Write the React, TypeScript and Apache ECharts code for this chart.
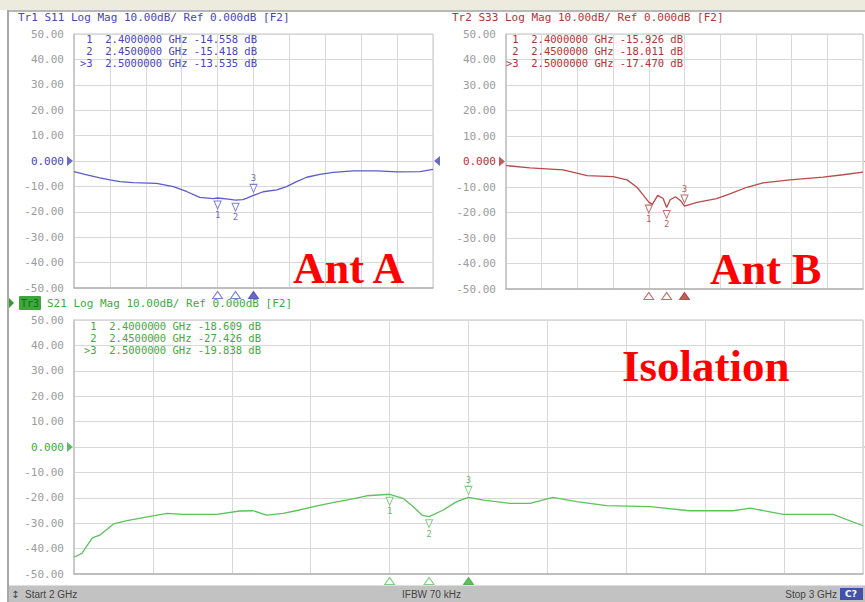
import React, { useEffect, useRef } from 'react';
import * as echarts from 'echarts';

// ---- data (GHz / dB) ----
const markerFreqs = [2.4, 2.45, 2.5];
const markerNames = ['1', '2', '3'];

const s11Freq = [2.0, 2.03, 2.072, 2.1, 2.128, 2.165, 2.23, 2.277, 2.315, 2.35, 2.388, 2.4, 2.43, 2.45, 2.47, 2.48, 2.5, 2.527, 2.565, 2.592, 2.62, 2.648, 2.685, 2.722, 2.778, 2.843, 2.9, 2.964, 3.0];
const s11Db = [-4.2, -5.3, -6.6, -7.4, -8.1, -8.5, -8.8, -10.1, -12.1, -14.3, -14.8, -14.56, -15.0, -15.42, -15.2, -14.7, -13.54, -12.1, -11.4, -10.1, -8.1, -6.4, -5.3, -4.5, -3.9, -3.9, -4.3, -4.2, -3.3];
const s11MarkerDb = [-14.558, -15.418, -13.535];

const s33Freq = [2.0, 2.067, 2.16, 2.227, 2.3, 2.339, 2.367, 2.385, 2.4, 2.41, 2.425, 2.44, 2.45, 2.46, 2.475, 2.49, 2.5, 2.535, 2.59, 2.627, 2.675, 2.72, 2.795, 2.888, 2.944, 3.0];
const s33Db = [-1.6, -2.5, -3.3, -5.5, -5.9, -7.2, -10.1, -13.3, -15.93, -16.8, -13.3, -14.5, -18.01, -15.0, -13.8, -15.5, -17.47, -16.0, -14.6, -12.7, -10.1, -8.4, -7.2, -6.1, -5.2, -4.2];
const s33MarkerDb = [-15.926, -18.011, -17.47];

const s21Freq = [2.0, 2.01, 2.023, 2.033, 2.05, 2.067, 2.088, 2.118, 2.138, 2.181, 2.21, 2.227, 2.244, 2.265, 2.286, 2.308, 2.328, 2.35, 2.371, 2.4, 2.417, 2.43, 2.441, 2.45, 2.468, 2.485, 2.5, 2.519, 2.553, 2.578, 2.607, 2.637, 2.675, 2.73, 2.78, 2.835, 2.857, 2.899, 2.962, 3.0];
const s21Db = [-43.4, -41.9, -35.9, -34.6, -30.3, -29.0, -27.8, -26.1, -26.5, -26.5, -25.2, -25.1, -26.8, -26.1, -24.8, -23.2, -21.9, -20.6, -19.2, -18.61, -20.2, -23.5, -26.8, -27.43, -24.8, -21.5, -19.84, -20.9, -22.2, -22.2, -19.8, -21.5, -23.1, -23.5, -25.1, -25.1, -24.1, -26.5, -26.5, -31.0];
const s21MarkerDb = [-18.609, -27.426, -19.838];

const traceTitles = [
  'Tr1 S11 Log Mag 10.00dB/ Ref 0.000dB [F2]',
  'Tr2 S33 Log Mag 10.00dB/ Ref 0.000dB [F2]',
  'S21 Log Mag 10.00dB/ Ref 0.000dB [F2]',
];
const trace3Tag = 'Tr3';
const panelLabels = ['Ant A', 'Ant B', 'Isolation'];
const statusTexts = ['Start 2 GHz', 'IFBW 70 kHz', 'Stop 3 GHz'];

const freqMin = 2;
const freqMax = 3;
const freqStep = 0.1;
const dbMin = -50;
const dbMax = 50;
const dbStep = 10;

// ---- styles ----
const MONO = '"DejaVu Sans Mono", "Liberation Mono", monospace';
const panels = [
  { freq: s11Freq, db: s11Db, mk: s11MarkerDb, line: '#5a5ccc', text: '#4646b4', grid: { left: 74, top: 34, width: 359, height: 254 } },
  { freq: s33Freq, db: s33Db, mk: s33MarkerDb, line: '#b84a4a', text: '#b03434', grid: { left: 506, top: 34, width: 357, height: 255 } },
  { freq: s21Freq, db: s21Db, mk: s21MarkerDb, line: '#5cc25c', text: '#3faa3f', grid: { left: 74, top: 320, width: 789, height: 254 } },
];

const readoutPos = [
  { x: 80, y: 39 },
  { x: 506, y: 39 },
  { x: 84, y: 326 },
];
const readoutGap = 12;

function readoutRow(i: number, db: number) {
  return (i === 2 ? '>' : ' ') + markerNames[i] + '  ' + markerFreqs[i].toFixed(7) + ' GHz ' + db.toFixed(3) + ' dB';
}

export default function App() {
  const ref = useRef<HTMLDivElement>(null);

  useEffect(() => {
    if (!ref.current) return;
    const chart = echarts.init(ref.current, undefined, { renderer: 'svg' });

    const grid = panels.map((p) => ({
      ...p.grid,
      show: true,
      borderColor: '#c4c4c4',
      borderWidth: 1,
      backgroundColor: '#ffffff',
    }));

    const xAxis = panels.map((_, i) => ({
      type: 'value',
      gridIndex: i,
      min: freqMin,
      max: freqMax,
      interval: freqStep,
      axisLabel: { show: false },
      axisTick: { show: false },
      axisLine: { show: true, onZero: false, lineStyle: { color: '#b4b4b4', width: 1.5 } },
      splitLine: { show: true, lineStyle: { color: '#d8d8d8', width: 1 } },
    }));

    const yAxis = panels.map((p, i) => ({
      type: 'value',
      gridIndex: i,
      min: dbMin,
      max: dbMax,
      interval: dbStep,
      axisTick: { show: false },
      axisLine: { show: true, onZero: false, lineStyle: { color: '#c4c4c4', width: 1.5 } },
      splitLine: { show: true, lineStyle: { color: '#d8d8d8', width: 1 } },
      axisLabel: {
        margin: 10,
        fontFamily: MONO,
        fontSize: 11,
        color: '#9c9c9c',
        formatter: (v: number) => (v === 0 ? '{z|0.000}' : v.toFixed(2)),
        rich: { z: { color: p.text, fontFamily: MONO, fontSize: 11 } },
      },
    }));

    const series: any[] = [];
    panels.forEach((p, i) => {
      series.push({
        type: 'line',
        xAxisIndex: i,
        yAxisIndex: i,
        data: p.freq.map((f, k) => [f, p.db[k]]),
        showSymbol: false,
        symbol: 'none',
        lineStyle: { color: p.line, width: 1.3 },
        z: 3,
      });
      // markers on the trace
      series.push({
        type: 'scatter',
        xAxisIndex: i,
        yAxisIndex: i,
        clip: false,
        z: 4,
        symbol: 'path://M0,0L10,0L5,10Z',
        symbolSize: [7, 8],
        itemStyle: { color: '#ffffff', borderColor: p.line, borderWidth: 1 },
        data: markerFreqs.map((f, k) => ({
          value: [f, p.mk[k]],
          symbolOffset: [0, k === 2 ? -7 : 7],
          label: {
            show: true,
            position: k === 2 ? 'top' : 'bottom',
            distance: 1,
            formatter: markerNames[k],
            color: p.text,
            fontFamily: MONO,
            fontSize: 9,
          },
        })),
      });
      // markers under the axis
      series.push({
        type: 'scatter',
        xAxisIndex: i,
        yAxisIndex: i,
        clip: false,
        z: 4,
        symbol: 'path://M5,0L10,8L0,8Z',
        symbolSize: [10, 7],
        data: markerFreqs.map((f, k) => ({
          value: [f, dbMin],
          symbolOffset: [0, 7],
          itemStyle: k === 2
            ? { color: p.text, borderColor: p.text, borderWidth: 1 }
            : { color: '#ffffff', borderColor: p.line, borderWidth: 1 },
        })),
      });
      // reference arrows
      series.push({
        type: 'scatter',
        xAxisIndex: i,
        yAxisIndex: i,
        clip: false,
        z: 5,
        symbolSize: [6, 10],
        itemStyle: { color: p.text },
        data: [
          { value: [freqMin, 0], symbol: 'path://M0,0L8,5L0,10Z', symbolOffset: [-4, 0] },
          { value: [freqMax, 0], symbol: 'path://M8,0L0,5L8,10Z', symbolOffset: [4, 0] },
        ],
      });
    });

    const graphic: any[] = [
      { type: 'rect', shape: { x: 0, y: 0, width: 865, height: 10 }, style: { fill: '#ecebdd' }, z: 10 },
      { type: 'rect', shape: { x: 7, y: 10, width: 858, height: 2 }, style: { fill: '#b8b8b8' }, z: 10 },
      { type: 'rect', shape: { x: 7, y: 10, width: 2, height: 592 }, style: { fill: '#a8a8a8' }, z: 10 },
      // status bar
      { type: 'rect', shape: { x: 9, y: 585, width: 856, height: 17 }, style: { fill: '#c2c2c2' }, z: 10 },
      { type: 'rect', shape: { x: 9, y: 585, width: 856, height: 1 }, style: { fill: '#dedede' }, z: 10 },
      { type: 'text', x: 11, y: 594, style: { text: '↕', font: '10px "DejaVu Sans"', fill: '#444', verticalAlign: 'middle' }, z: 11 },
      { type: 'text', x: 25, y: 594, style: { text: statusTexts[0], font: '10px "Liberation Sans"', fill: '#444', verticalAlign: 'middle' }, z: 11 },
      { type: 'text', x: 402, y: 594, style: { text: statusTexts[1], font: '10px "Liberation Sans"', fill: '#444', verticalAlign: 'middle' }, z: 11 },
      { type: 'text', x: 837, y: 594, style: { text: statusTexts[2], font: '10px "Liberation Sans"', fill: '#444', align: 'right', verticalAlign: 'middle' }, z: 11 },
      { type: 'rect', shape: { x: 840, y: 588, width: 23, height: 12 }, style: { fill: '#4252a8' }, z: 11 },
      { type: 'text', x: 851, y: 594, style: { text: 'C?', font: 'bold 9px "DejaVu Sans"', fill: '#ffffff', align: 'center', verticalAlign: 'middle' }, z: 12 },
      // headers
      { type: 'text', x: 18, y: 17, style: { text: traceTitles[0], font: '11px ' + MONO, fill: panels[0].text, verticalAlign: 'middle' }, z: 11 },
      { type: 'text', x: 452, y: 17, style: { text: traceTitles[1], font: '11px ' + MONO, fill: panels[1].text, verticalAlign: 'middle' }, z: 11 },
      { type: 'polygon', shape: { points: [[9, 298], [14, 303], [9, 308]] }, style: { fill: '#2f9a2f' }, z: 11 },
      { type: 'rect', shape: { x: 19, y: 296, width: 22, height: 14, r: 1 }, style: { fill: '#3aa83a' }, z: 11 },
      { type: 'text', x: 30, y: 303, style: { text: trace3Tag, font: '10px ' + MONO, fill: '#1e6a1e', align: 'center', verticalAlign: 'middle' }, z: 12 },
      { type: 'text', x: 47, y: 303, style: { text: traceTitles[2], font: '11px ' + MONO, fill: panels[2].text, verticalAlign: 'middle' }, z: 11 },
      // big labels
      { type: 'text', x: 293, y: 268, style: { text: panelLabels[0], font: 'bold 44px "Liberation Serif"', fill: '#ff0000', verticalAlign: 'middle' }, z: 11 },
      { type: 'text', x: 710, y: 269, style: { text: panelLabels[1], font: 'bold 44px "Liberation Serif"', fill: '#ff0000', verticalAlign: 'middle' }, z: 11 },
      { type: 'text', x: 622, y: 366, style: { text: panelLabels[2], font: 'bold 45px "Liberation Serif"', fill: '#ff0000', verticalAlign: 'middle' }, z: 11 },
    ];

    panels.forEach((p, i) => {
      p.mk.forEach((db, k) => {
        graphic.push({
          type: 'text',
          x: readoutPos[i].x,
          y: readoutPos[i].y + k * readoutGap,
          style: { text: readoutRow(k, db), font: '10.5px ' + MONO, fill: p.text, verticalAlign: 'middle' },
          z: 11,
        });
      });
    });

    chart.setOption({
      animation: false,
      backgroundColor: '#ffffff',
      grid,
      xAxis,
      yAxis,
      series,
      graphic,
    });

    return () => chart.dispose();
  }, []);

  return (
    <div
      ref={ref}
      style={{ position: 'absolute', left: 0, top: 0, width: 865, height: 602 }}
    />
  );
}
